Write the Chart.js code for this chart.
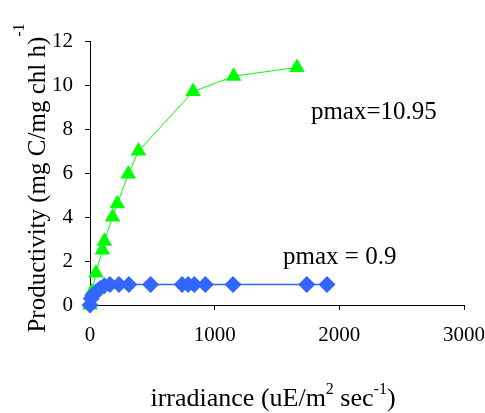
<!DOCTYPE html>
<html>
<head>
<meta charset="utf-8">
<script src="https://cdn.jsdelivr.net/npm/chart.js@4/dist/chart.umd.min.js"></script>
<style>
  body { margin: 0; background: #fff; }
  canvas { display: block; }
</style>
</head>
<body>
<canvas id="myChart" width="485" height="413"></canvas>
<script>
// irradiance (x) and productivity (y)
var blueX = [0, 10, 25, 50, 80, 115, 160, 232, 312, 486, 739, 787, 837, 925, 1147, 1739, 1901]
var blueY = [0, 0.3, 0.45, 0.6, 0.75, 0.88, 0.93, 0.93, 0.93, 0.93, 0.93, 0.93, 0.93, 0.93, 0.93, 0.93, 0.93]
var greenX = [0, 15, 48, 99, 115, 181, 219, 307, 389, 827, 1152, 1660]
var greenY = [0, 0.6, 1.45, 2.5, 2.9, 4.0, 4.6, 5.95, 7.0, 9.7, 10.4, 10.8]

var xTicks = [0, 1000, 2000, 3000]
var yTicks = [0, 2, 4, 6, 8, 10, 12]

// text notes, placed in data units
var notes = [
  {text: 'pmax=10.95', x: 1772, y: 8.75},
  {text: 'pmax = 0.9', x: 1548, y: 2.15}
]

var serif = "'Liberation Serif', 'Times New Roman', Times, 'DejaVu Serif', serif"

function toPoints (xs, ys) {
  return xs.map(function (x, i) { return {x: x, y: ys[i]} })
}

// draws a run of [text, isSuperscript] pieces starting at x, baseline y
function drawRun (ctx, parts, x, y, size, raise) {
  parts.forEach(function (p) {
    ctx.font = (p[1] ? Math.round(size * 0.62) : size) + 'px ' + serif
    ctx.fillText(p[0], x, p[1] ? y - raise : y)
    x += ctx.measureText(p[0]).width
  })
}

function runWidth (ctx, parts, size) {
  var w = 0
  parts.forEach(function (p) {
    ctx.font = (p[1] ? Math.round(size * 0.62) : size) + 'px ' + serif
    w += ctx.measureText(p[0]).width
  })
  return w
}

var textPlugin = {
  id: 'texts',
  afterDraw: function (chart) {
    var ctx = chart.ctx
    var xs = chart.scales.x
    var ys = chart.scales.y
    ctx.save()
    ctx.fillStyle = '#000'
    ctx.textAlign = 'left'
    ctx.textBaseline = 'middle'
    ctx.font = '25px ' + serif
    notes.forEach(function (n) {
      ctx.fillText(n.text, xs.getPixelForValue(n.x), ys.getPixelForValue(n.y))
    })

    ctx.textBaseline = 'alphabetic'
    var xTitle = [['irradiance (uE/m', false], ['2', true], [' sec', false], ['-1', true], [')', false]]
    drawRun(ctx, xTitle, 273 - runWidth(ctx, xTitle, 26) / 2, 406, 26, 12)

    var yTitle = [['Productivity (mg C/mg chl h)', false], ['-1', true]]
    ctx.translate(45, 178)
    ctx.rotate(-Math.PI / 2)
    drawRun(ctx, yTitle, -runWidth(ctx, yTitle, 25) / 2, 0, 25, 21)
    ctx.restore()
  }
}

var ctx = document.getElementById('myChart')
var myChart = new Chart(ctx, {
  type: 'scatter',
  data: {
    datasets: [{
      data: toPoints(blueX, blueY),
      showLine: true,
      clip: false,
      borderColor: '#3366ff',
      borderWidth: 1.5,
      backgroundColor: '#3366ff',
      pointStyle: 'rectRot',
      pointRadius: 8.5,
      pointBorderWidth: 0
    }, {
      data: toPoints(greenX, greenY),
      showLine: true,
      clip: false,
      borderColor: '#00ff00',
      borderWidth: 1,
      backgroundColor: '#00ff00',
      pointStyle: 'triangle',
      pointRadius: 9,
      pointBorderWidth: 0
    }]
  },
  options: {
    responsive: false,
    animation: false,
    layout: {padding: {top: 41, right: 21, left: 0, bottom: 0}},
    plugins: {
      legend: {display: false},
      tooltip: {enabled: false}
    },
    scales: {
      x: {
        min: 0,
        max: 3000,
        afterFit: function (scale) {
          scale.height = 108
          scale.paddingLeft = 0
          scale.paddingRight = 0
        },
        afterBuildTicks: function (scale) {
          scale.ticks = xTicks.map(function (v) { return {value: v} })
        },
        border: {display: true, color: '#000', width: 1},
        grid: {drawOnChartArea: false, drawTicks: true, tickLength: 5, color: '#000'},
        ticks: {
          color: '#000',
          padding: 13,
          maxRotation: 0,
          font: {family: serif, size: 21},
          callback: function (v) { return String(v) }
        }
      },
      y: {
        min: 0,
        max: 12,
        afterFit: function (scale) {
          scale.width = 90
          scale.paddingTop = 0
          scale.paddingBottom = 0
        },
        afterBuildTicks: function (scale) {
          scale.ticks = yTicks.map(function (v) { return {value: v} })
        },
        border: {display: true, color: '#000', width: 1},
        grid: {drawOnChartArea: false, drawTicks: true, tickLength: 5, color: '#000'},
        ticks: {
          color: '#000',
          padding: 12,
          font: {family: serif, size: 21},
          callback: function (v) { return String(v) }
        }
      }
    }
  },
  plugins: [textPlugin]
})
</script>
</body>
</html>
